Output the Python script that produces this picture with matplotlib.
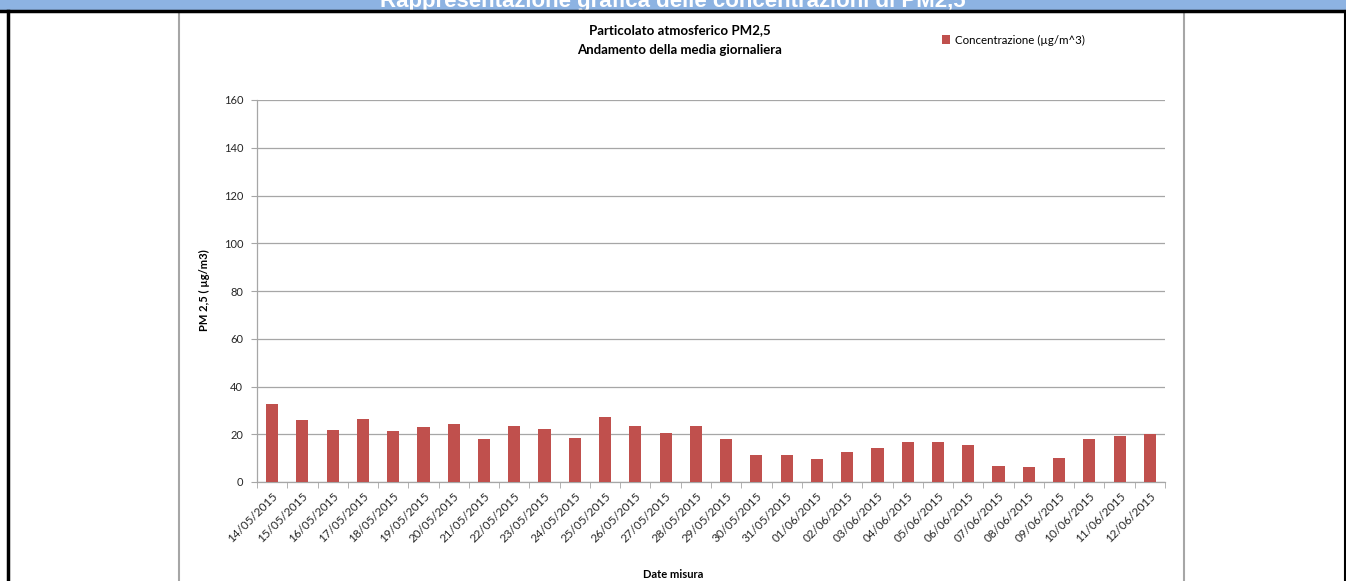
import matplotlib
matplotlib.use('Agg')
import matplotlib.pyplot as plt
import matplotlib.patches as patches
from matplotlib.lines import Line2D
import numpy as np

dates = ['14/05/2015', '15/05/2015', '16/05/2015', '17/05/2015', '18/05/2015',
         '19/05/2015', '20/05/2015', '21/05/2015', '22/05/2015', '23/05/2015',
         '24/05/2015', '25/05/2015', '26/05/2015', '27/05/2015', '28/05/2015',
         '29/05/2015', '30/05/2015', '31/05/2015', '01/06/2015', '02/06/2015',
         '03/06/2015', '04/06/2015', '05/06/2015', '06/06/2015', '07/06/2015',
         '08/06/2015', '09/06/2015', '10/06/2015', '11/06/2015', '12/06/2015']
pm25 = [32.7, 26.0, 21.8, 26.5, 21.2, 23.2, 24.5, 17.9, 23.4, 22.3,
        18.6, 27.1, 23.4, 20.4, 23.5, 18.1, 11.4, 11.1, 9.7, 12.6,
        14.3, 16.8, 16.8, 15.4, 6.9, 6.4, 10.1, 17.9, 19.3, 20.0]
y_ticks = [0, 20, 40, 60, 80, 100, 120, 140, 160]

W, H = 1346, 581
plt.rcParams['font.family'] = ['Lato', 'DejaVu Sans']

fig = plt.figure(figsize=(W / 100, H / 100), dpi=100)
fig.patch.set_facecolor('white')

def fx(px):
    return px / W

def fy(py):
    return 1 - py / H

# header band (title cut off as in the page) and black frame
fig.patches.append(patches.Rectangle((0, fy(10)), 1, 10 / H, transform=fig.transFigure,
                                     facecolor='#8DB3E2', edgecolor='none', zorder=0))
fig.text(0.5, fy(1), 'Rappresentazione grafica delle concentrazioni di PM2,5',
         ha='center', va='center', color='white', fontsize=16, fontweight='bold',
         family=['Liberation Sans', 'DejaVu Sans'], zorder=1)
fig.lines.append(Line2D([0, 1], [fy(10.5), fy(10.5)], transform=fig.transFigure,
                        color='black', lw=2.5, zorder=5))
fig.lines.append(Line2D([fx(7.5), fx(7.5)], [0, fy(10.5)], transform=fig.transFigure,
                        color='black', lw=2.5, zorder=5))
fig.lines.append(Line2D([fx(1345), fx(1345)], [0, fy(10.5)], transform=fig.transFigure,
                        color='black', lw=1.5, zorder=5))

# chart area border
fig.lines.append(Line2D([fx(178.5), fx(178.5), fx(1183.5), fx(1183.5)],
                        [0, fy(12), fy(12), 0], transform=fig.transFigure,
                        color='#A6A6A6', lw=1.5, zorder=4))

ax = fig.add_axes([fx(257), fy(482), fx(1165) - fx(257), (482 - 100) / H])
x = np.arange(len(dates))
bars = ax.bar(x, pm25, width=0.4, color='#C0504D', zorder=3,
              label='Concentrazione (µg/m^3)')

ax.set_xlim(-0.5, len(dates) - 0.5)
ax.set_ylim(0, 160)
ax.set_yticks(y_ticks)
ax.yaxis.grid(True, color='#A6A6A6', lw=0.9)
ax.set_axisbelow(True)

ax.set_xticks(x)
ax.set_xticklabels(dates, rotation=45, ha='right', va='top', rotation_mode='anchor',
                   fontsize=8.5, color='#262626')
ax.set_xticks(np.arange(-0.5, len(dates)), minor=True)
ax.tick_params(axis='x', which='major', length=0, pad=6)
ax.tick_params(axis='x', which='minor', length=4, color='#A6A6A6', direction='out')
ax.tick_params(axis='y', length=4, color='#A6A6A6', labelsize=8, labelcolor='#262626', pad=6)

for side in ['top', 'right']:
    ax.spines[side].set_visible(False)
for side in ['left', 'bottom']:
    ax.spines[side].set_color('#A6A6A6')
    ax.spines[side].set_linewidth(0.9)

ax.set_ylabel('PM 2,5 ( µg/m3)', fontsize=8, fontweight='bold')
ax.yaxis.set_label_coords((210 - 257) / (1165 - 257), (482 - 290) / (482 - 100))

fig.text(fx(673), fy(574), 'Date misura', ha='center', va='center',
         fontsize=8, fontweight='bold')

fig.text(fx(680), fy(30), 'Particolato atmosferico PM2,5', ha='center', va='center',
         fontsize=9.5, fontweight='bold')
fig.text(fx(680), fy(50), 'Andamento della media giornaliera', ha='center', va='center',
         fontsize=9.5, fontweight='bold')

fig.legend(handles=[bars], loc='center left', bbox_to_anchor=(fx(932), fy(40)),
           frameon=False, fontsize=8.3, handlelength=0.7, handleheight=0.7,
           handletextpad=0.4)

fig.savefig('out.png', dpi=100)
